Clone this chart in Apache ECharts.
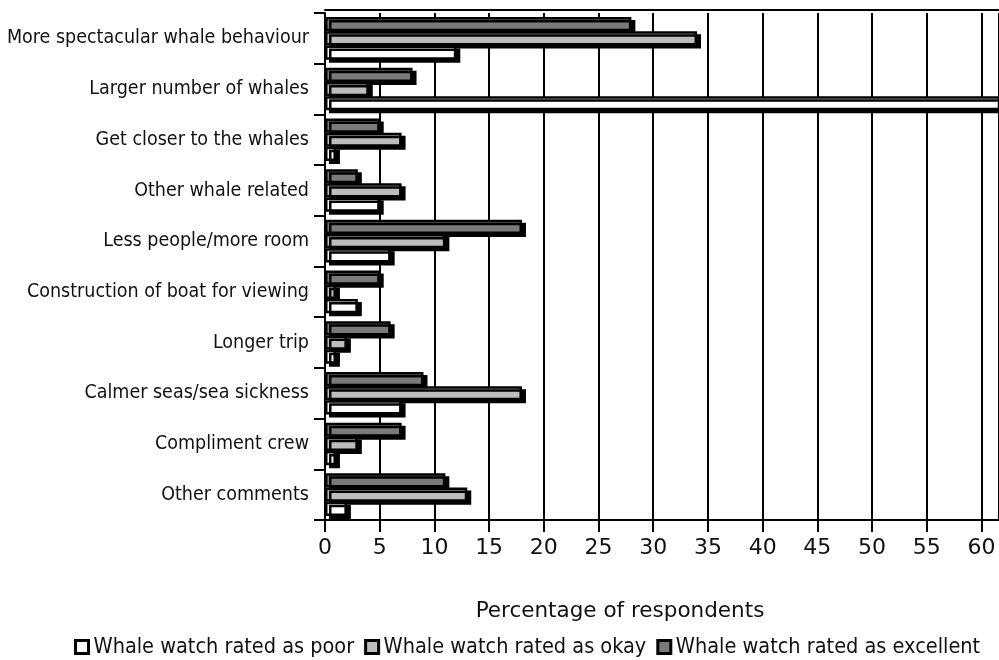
<!DOCTYPE html>
<html><head><meta charset="utf-8">
<script src="https://cdn.jsdelivr.net/npm/echarts@6/dist/echarts.min.js"></script>
<style>html,body{margin:0;padding:0;background:#fff}#c{width:999px;height:660px}</style>
</head><body><div id="c"></div>
<script>
const categories = ["More spectacular whale behaviour","Larger number of whales","Get closer to the whales","Other whale related","Less people/more room","Construction of boat for viewing","Longer trip","Calmer seas/sea sickness","Compliment crew","Other comments"];
const excellent = [28, 8, 5, 3, 18, 5, 6, 9, 7, 11];
const okay      = [34, 4, 7, 7, 11, 1, 2, 18, 3, 13];
const poor      = [12, 65, 1, 5, 6, 3, 1, 7, 1, 2];
const xTicks = [0,5,10,15,20,25,30,35,40,45,50,55,60];
const names = ["Whale watch rated as poor","Whale watch rated as okay","Whale watch rated as excellent"];

const chart = echarts.init(document.getElementById('c'), null, {renderer:'canvas'});
const fontC = 'DejaVu Sans Condensed';
const fontR = 'DejaVu Sans';
function ser(name, data, color){
  return {name, type:'bar', data, barGap:'0%', barCategoryGap:'16%',
    itemStyle:{color, borderColor:'#000', borderWidth:2.5, shadowColor:'#000', shadowOffsetX:4, shadowOffsetY:3, shadowBlur:0}};
}
chart.setOption({
  animation:false,
  grid:{left:325, right:0, top:13, bottom:140},
  legend:{data:names, top:631, left:69, itemWidth:13, itemHeight:13, itemGap:10,
    icon:'rect', textStyle:{fontFamily:fontC, fontSize:21.5, color:'#111'},
    itemStyle:{borderColor:'#000', borderWidth:3, shadowBlur:0, shadowOffsetX:0, shadowOffsetY:0}},
  xAxis:[{type:'value', min:0, max:61.6, interval:5, position:'bottom',
    name:'Percentage of respondents', nameLocation:'middle', nameGap:80,
    nameTextStyle:{fontFamily:fontR, fontSize:21.5, color:'#111', padding:[0,84,0,0]},
    axisLine:{show:true, lineStyle:{color:'#000', width:2}},
    axisTick:{show:true, length:12, lineStyle:{color:'#000', width:2}},
    axisLabel:{fontFamily:fontR, fontSize:22, color:'#111', margin:17, showMaxLabel:false,
      formatter:v=>xTicks.includes(v)?String(v):''},
    splitLine:{show:true, lineStyle:{color:'#000', width:2}}},
   {type:'value', min:0, max:61.6, position:'top', offset:3, axisLine:{show:true, lineStyle:{color:'#000', width:2}},
    axisTick:{show:false}, axisLabel:{show:false}, splitLine:{show:false}}],
  yAxis:{type:'category', data:categories, inverse:true,
    axisLine:{show:true, lineStyle:{color:'#000', width:2}},
    axisTick:{show:true, length:11, lineStyle:{color:'#000', width:2}},
    axisLabel:{fontFamily:fontC, fontSize:19.5, color:'#111', margin:16, padding:[10,0,0,0]}},
  series:[ser(names[2], excellent, '#7a7a7a'), ser(names[1], okay, '#bdbdbd'), ser(names[0], poor, '#ffffff')]
});
</script></body></html>
